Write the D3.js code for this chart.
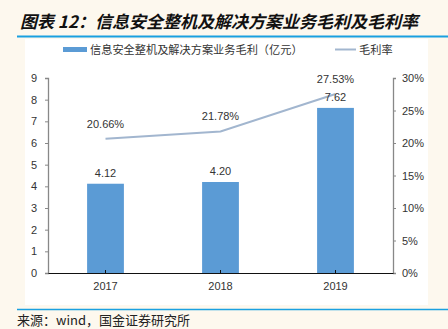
<!DOCTYPE html>
<html><head><meta charset="utf-8">
<script src="https://cdn.jsdelivr.net/npm/d3@7"></script>
<style>
html,body{margin:0;padding:0;background:#fdf8ee;}
svg{display:block;}
</style></head>
<body>
<script>
const categories = ["2017", "2018", "2019"];
const profit = [4.12, 4.20, 7.62];
const margin = [0.2066, 0.2178, 0.2753];
const profitLabels = ["4.12", "4.20", "7.62"];
const marginLabels = ["20.66%", "21.78%", "27.53%"];
const leftTicks = [0,1,2,3,4,5,6,7,8,9];
const rightTicks = [0,0.05,0.10,0.15,0.20,0.25,0.30];
const seriesNames = ["信息安全整机及解决方案业务毛利（亿元）", "毛利率"];
const title = "图表 12：信息安全整机及解决方案业务毛利及毛利率";
const source = "来源：wind，国金证券研究所";

const W = 448, H = 329;
const svg = d3.select("body").append("svg").attr("width", W).attr("height", H);
const font = "'Liberation Sans', Arial, 'Noto Sans CJK SC', sans-serif";
const cjk = "'Noto Sans CJK SC', sans-serif";

svg.append("rect").attr("width", W).attr("height", H).attr("fill", "#fdf8ee");
// white panel
svg.append("rect").attr("x", 25).attr("y", 39).attr("width", 403).attr("height", 266).attr("fill", "#ffffff");

// title
svg.append("text").attr("x", 20).attr("y", 28)
  .attr("font-family", cjk).attr("font-size", 17)
  .attr("font-weight", "bold").attr("font-style", "italic").attr("fill", "#111")
  .text(title);
svg.append("line").attr("x1", 17).attr("x2", W).attr("y1", 36.5).attr("y2", 36.5)
  .attr("stroke", "#1aa0e0").attr("stroke-width", 2);
svg.append("line").attr("x1", 17).attr("x2", W).attr("y1", 309.5).attr("y2", 309.5)
  .attr("stroke", "#1aa0e0").attr("stroke-width", 1.5);
svg.append("text").attr("x", 17).attr("y", 325)
  .attr("font-family", cjk).attr("font-size", 13).attr("fill", "#222")
  .text(source);

const x0 = 48, x1 = 393, yTop = 78, yBot = 273;
const x = d3.scaleBand().domain(categories).range([x0, x1]).paddingInner(0.68).paddingOuter(0.34);
const y = d3.scaleLinear().domain([0, 9]).range([yBot, yTop]);
const y2 = d3.scaleLinear().domain([0, 0.30]).range([yBot, yTop]);

// bars
svg.selectAll(".bar").data(profit).enter().append("rect")
  .attr("x", (d,i) => x(categories[i]))
  .attr("y", d => y(d))
  .attr("width", x.bandwidth())
  .attr("height", d => yBot - y(d))
  .attr("fill", "#5b9bd5");

// axes
const axL = d3.axisLeft(y).tickValues(leftTicks).tickSize(3).tickFormat(d3.format("d"));
const gL = svg.append("g").attr("transform", `translate(${x0},0)`).call(axL);
const axR = d3.axisRight(y2).tickValues(rightTicks).tickSize(3).tickFormat(d3.format(".0%"));
const gR = svg.append("g").attr("transform", `translate(${x1},0)`).call(axR);
[gL, gR].forEach(g => {
  g.select(".domain").attr("stroke", "#888").attr("stroke-width", 1.3);
  g.selectAll(".tick line").attr("stroke", "#888");
  g.selectAll("text").attr("font-family", font).attr("font-size", 11).attr("fill", "#333");
});
gL.selectAll("text").attr("x", -11);
gR.selectAll("text").attr("x", 9);

const axB = d3.axisBottom(x).tickSize(0).tickPadding(9);
const gB = svg.append("g").attr("transform", `translate(0,${yBot})`).call(axB);
gB.select(".domain").attr("stroke", "#111").attr("stroke-width", 1.2);
gB.selectAll("text").attr("font-family", font).attr("font-size", 11).attr("fill", "#333");
gB.selectAll(".tick").append("line").attr("y1", 0).attr("y2", -3).attr("stroke", "#111");

// line
const cx = c => x(c) + x.bandwidth()/2;
const line = d3.line().x((d,i) => cx(categories[i])).y(d => y2(d));
svg.append("path").datum(margin).attr("d", line).attr("fill", "none")
  .attr("stroke", "#a2b6cf").attr("stroke-width", 2);

// labels
svg.selectAll(".pl").data(profit).enter().append("text")
  .attr("x", (d,i) => cx(categories[i])).attr("y", d => y(d) - 7)
  .attr("text-anchor", "middle").attr("font-family", font).attr("font-size", 11).attr("fill", "#333")
  .text((d,i) => profitLabels[i]);
svg.selectAll(".ml").data(margin).enter().append("text")
  .attr("x", (d,i) => cx(categories[i])).attr("y", d => y2(d) - 11)
  .attr("text-anchor", "middle").attr("font-family", font).attr("font-size", 11).attr("fill", "#333")
  .text((d,i) => marginLabels[i]);

// legend
svg.append("rect").attr("x", 63).attr("y", 47).attr("width", 24).attr("height", 5).attr("fill", "#5b9bd5");
svg.append("text").attr("x", 90).attr("y", 53.5).attr("font-family", cjk)
  .attr("font-size", 11.2).attr("fill", "#333").text(seriesNames[0]);
svg.append("line").attr("x1", 335).attr("x2", 356).attr("y1", 49.5).attr("y2", 49.5)
  .attr("stroke", "#a2b6cf").attr("stroke-width", 2);
svg.append("text").attr("x", 359).attr("y", 53.5).attr("font-family", cjk)
  .attr("font-size", 11.2).attr("fill", "#333").text(seriesNames[1]);
</script>
</body></html>
